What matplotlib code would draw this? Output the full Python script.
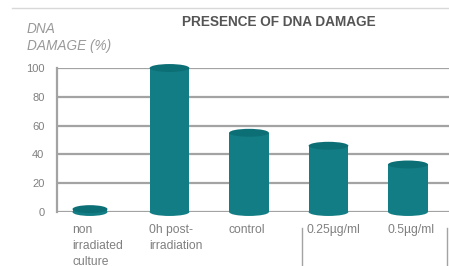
import matplotlib
matplotlib.use("Agg")
import matplotlib.pyplot as plt
from matplotlib.patches import Ellipse, Rectangle

categories = ["non\nirradiated\nculture", "0h post-\nirradiation", "control", "0.25µg/ml", "0.5µg/ml"]
values = [2, 100, 55, 46, 33]
yticks = [0, 20, 40, 60, 80, 100]

plt.rcParams['font.family'] = ['Liberation Sans', 'DejaVu Sans']
W, H = 449, 266
fig = plt.figure(figsize=(W/100, H/100), dpi=100)
ax = fig.add_axes([57/W, 1-212/H, 1-57/W, (212-68)/H])
ax.set_xlim(-0.415, 4.516)
ax.set_ylim(0, 100)

grid_c = '#a3a3a3'
text_c = '#808080'
bar_c = '#127d84'
cap_c = '#0d6f76'

for y in yticks:
    ax.axhline(y, color=grid_c, lw=1.6, zorder=1)
for s in ['top', 'right', 'bottom']:
    ax.spines[s].set_visible(False)
ax.spines['left'].set_color(grid_c)
ax.spines['left'].set_linewidth(1.6)
ax.set_xticks([])
ax.set_yticks(yticks)
ax.set_yticklabels([str(v) for v in yticks], color=text_c, fontsize=8)
ax.tick_params(axis='y', length=0, pad=9)

bw = 0.5
eh = 5.5
offsets = [-0.22, -0.26, -0.26, -0.28, -0.26]
for i, v in enumerate(values):
    w = bw if v > 5 else 0.44
    ax.add_patch(Ellipse((i, 0), w, eh, color=bar_c, zorder=3, clip_on=False, lw=0))
    ax.add_patch(Rectangle((i - w/2, 0), w, v, color=bar_c, zorder=3, clip_on=False, lw=0))
    ax.add_patch(Ellipse((i, v), w, eh, color=cap_c, zorder=4, clip_on=False, lw=0))
    ax.text(i + offsets[i], -8.5, categories[i],
            ha='left', va='top', color=text_c, fontsize=8.7, linespacing=1.45, clip_on=False)

fig.text(279/W, 1-22/H, "PRESENCE OF DNA DAMAGE", ha='center', va='center',
         fontsize=9.8, fontweight='bold', color='#555555')
fig.text(27/W, 1-37.5/H, "DNA\nDAMAGE (%)", ha='left', va='center', fontsize=9.8,
         style='italic', color='#999999', linespacing=1.35)
fig.add_artist(plt.Line2D([12/W, 1], [1-8/H, 1-8/H], color='#d8d8d8', lw=1))
fig.add_artist(plt.Line2D([302/W, 302/W], [1-228/H, 0], color=grid_c, lw=1))
fig.add_artist(plt.Line2D([447/W, 447/W], [1-228/H, 0], color=grid_c, lw=1))

fig.savefig("out.png", dpi=100)
